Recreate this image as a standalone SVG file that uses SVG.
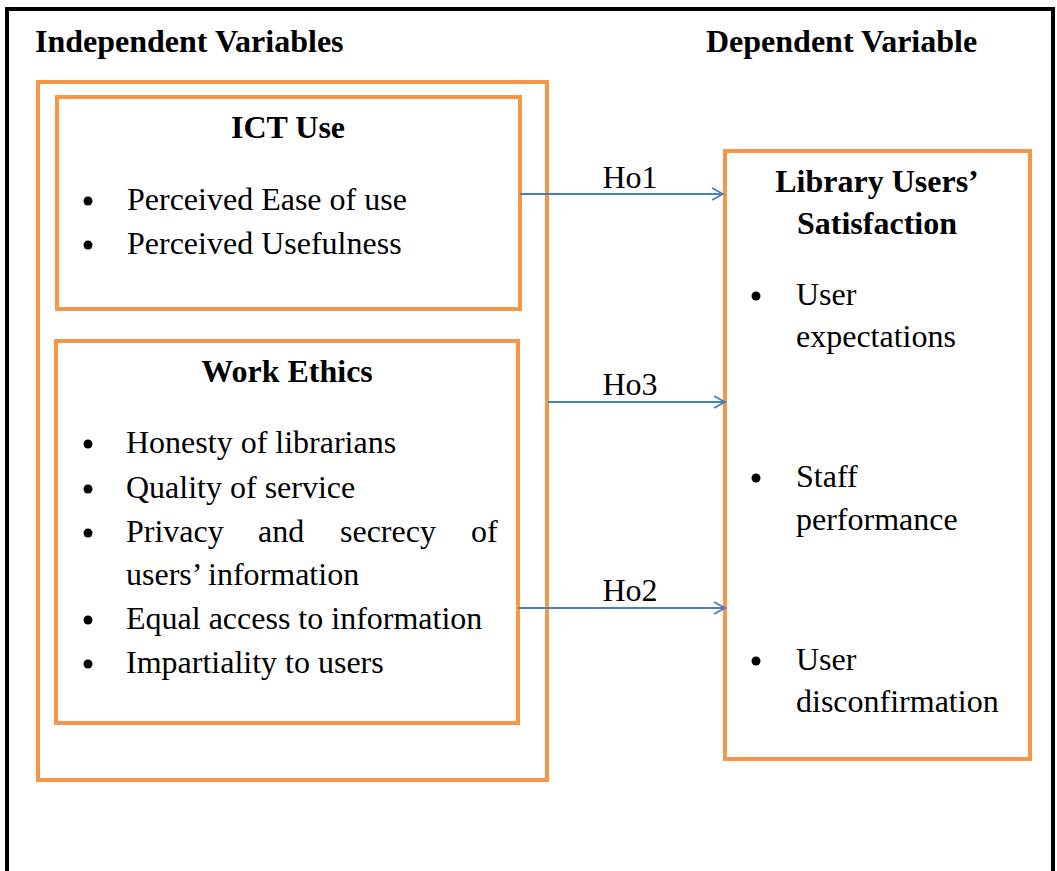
<svg xmlns="http://www.w3.org/2000/svg" width="1057" height="871" viewBox="0 0 1057 871">
  <defs>
    <style>
      text { font-family: "Liberation Serif", "Times New Roman", serif; font-size: 32px; fill: #000; }
      .b { font-weight: bold; }
      .c { text-anchor: middle; }
      .box { fill: none; stroke: #F79646; stroke-width: 4; }
      .link { fill: none; stroke: #4A7EBB; stroke-width: 1.8; }
    </style>
    <marker id="arrow" markerWidth="14" markerHeight="14" refX="12" refY="7" orient="auto" markerUnits="userSpaceOnUse">
      <path d="M1,1 L12,7 L1,13" fill="none" stroke="#4A7EBB" stroke-width="1.8"/>
    </marker>
  </defs>

  <rect width="1057" height="871" fill="#fff"/>

  <!-- page frame (open at the bottom) -->
  <path d="M7,871 V9 H1053 V871" fill="none" stroke="#000" stroke-width="4"/>

  <text class="b" x="35" y="52">Independent Variables</text>
  <text class="b" x="706" y="52">Dependent Variable</text>

  <!-- container for the independent variables -->
  <g id="independent">
    <rect class="box" x="38" y="82" width="509" height="698"/>
  </g>

  <g id="ict-use">
    <rect class="box" x="57" y="97" width="463" height="212"/>
    <text class="b c" x="288" y="138">ICT Use</text>
    <circle cx="88" cy="201" r="4.5"/>
    <text x="127" y="210">Perceived Ease of use</text>
    <circle cx="88" cy="245" r="4.5"/>
    <text x="127" y="254">Perceived Usefulness</text>
  </g>

  <g id="work-ethics">
    <rect class="box" x="56" y="341" width="462" height="382"/>
    <text class="b c" x="287" y="382">Work Ethics</text>
    <circle cx="88" cy="444" r="4.5"/>
    <text x="126" y="453">Honesty of librarians</text>
    <circle cx="88" cy="489" r="4.5"/>
    <text x="126" y="498">Quality of service</text>
    <circle cx="88" cy="533" r="4.5"/>
    <text x="126" y="542">Privacy</text>
    <text x="258" y="542">and</text>
    <text x="340" y="542">secrecy</text>
    <text x="471" y="542">of</text>
    <text x="126" y="585">users’ information</text>
    <circle cx="88" cy="620" r="4.5"/>
    <text x="126" y="629">Equal access to information</text>
    <circle cx="88" cy="664" r="4.5"/>
    <text x="126" y="673">Impartiality to users</text>
  </g>

  <g id="satisfaction">
    <rect class="box" x="725" y="151" width="305" height="608"/>
    <text class="b c" x="877" y="192">Library Users’</text>
    <text class="b c" x="877" y="234">Satisfaction</text>
    <circle cx="756" cy="296" r="4.5"/>
    <text x="796" y="305">User</text>
    <text x="796" y="347">expectations</text>
    <circle cx="756" cy="478" r="4.5"/>
    <text x="796" y="487">Staff</text>
    <text x="796" y="530">performance</text>
    <circle cx="756" cy="661" r="4.5"/>
    <text x="796" y="670">User</text>
    <text x="796" y="712">disconfirmation</text>
  </g>

  <g id="connectors">
    <line class="link" x1="520" y1="194" x2="723" y2="194" marker-end="url(#arrow)"/>
    <text class="c" x="630" y="188">Ho1</text>
    <line class="link" x1="548" y1="402" x2="725" y2="402" marker-end="url(#arrow)"/>
    <text class="c" x="630" y="395">Ho3</text>
    <line class="link" x1="519" y1="608" x2="725" y2="608" marker-end="url(#arrow)"/>
    <text class="c" x="630" y="601">Ho2</text>
  </g>
</svg>
